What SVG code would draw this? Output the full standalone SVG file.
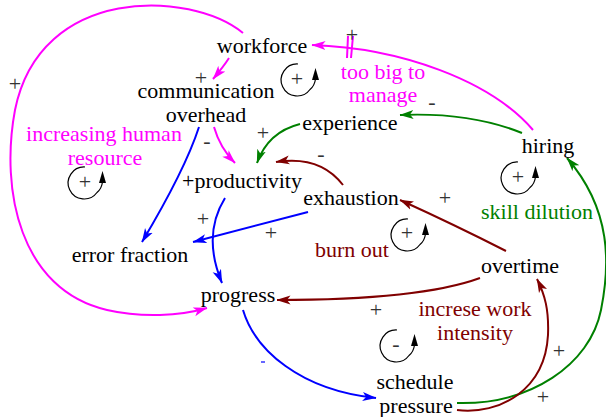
<svg xmlns="http://www.w3.org/2000/svg" width="606" height="417" viewBox="0 0 606 417">
  <style>
    text { font-family: "Liberation Serif", "Times New Roman", serif; font-size: 22px; text-anchor: middle; }
    .var { fill: #000; }
    .pol { fill: #333; }
    .lm { fill: #ff00ff; }
    .lg { fill: #008000; }
    .lr { fill: #800000; }
    .c { fill: none; stroke-width: 2; }
    .cm { stroke: #ff00ff; marker-end: url(#ah-m); }
    .cg { stroke: #008000; marker-end: url(#ah-g); }
    .cr { stroke: #800000; marker-end: url(#ah-r); }
    .cb { stroke: #0000ff; marker-end: url(#ah-b); }
    .loop path.arc { fill: none; stroke: #000; stroke-width: 1.2; }
    .loop path.tip { fill: #000; }
  </style>
  <defs>
    <marker id="ah-m" viewBox="0 0 14 10" refX="13.5" refY="5" markerWidth="14" markerHeight="10" markerUnits="userSpaceOnUse" orient="auto">
      <path d="M0,0.5 L14,5 L0,9.5 L3.5,5 z" fill="#ff00ff"/>
    </marker>
    <marker id="ah-g" viewBox="0 0 14 10" refX="13.5" refY="5" markerWidth="14" markerHeight="10" markerUnits="userSpaceOnUse" orient="auto">
      <path d="M0,0.5 L14,5 L0,9.5 L3.5,5 z" fill="#008000"/>
    </marker>
    <marker id="ah-r" viewBox="0 0 14 10" refX="13.5" refY="5" markerWidth="14" markerHeight="10" markerUnits="userSpaceOnUse" orient="auto">
      <path d="M0,0.5 L14,5 L0,9.5 L3.5,5 z" fill="#800000"/>
    </marker>
    <marker id="ah-b" viewBox="0 0 14 10" refX="13.5" refY="5" markerWidth="14" markerHeight="10" markerUnits="userSpaceOnUse" orient="auto">
      <path d="M0,0.5 L14,5 L0,9.5 L3.5,5 z" fill="#0000ff"/>
    </marker>
    <!-- loop marker: open circle with an upward arrowhead on the right -->
    <g id="loopsym" class="loop">
      <path class="arc" d="M1,-16 A16,16 0 1 0 13,9.5 Q17.5,6 18.5,-1"/>
      <path class="tip" d="M15,0 L22,0 L18.5,-12 z"/>
    </g>
  </defs>

  <!-- connectors -->
  <g id="connectors">
    <path class="c cm" d="M229,58 Q224,66 213,79"/>
    <path class="c cm" d="M214,127 Q220,148 235,163"/>
    <path class="c cm" d="M243,33 C190,-10 40,-15 15,110 C0,190 20,290 107,310 C142,318 180,316 207,308"/>
    <path class="c cm" d="M533,130 C490,80 400,48 312,45"/>
    <path class="c" stroke="#ff00ff" d="M348,36 L347,58 M353,36 L351,58"/>
    <path class="c cg" d="M522,133 Q470,112 400,115"/>
    <path class="c cg" d="M300,124 Q268,132 257,163"/>
    <path class="c cg" d="M457,403 C530,405 590,365 601,310 C610,265 612,210 567,158"/>
    <path class="c cr" d="M457,410 C500,415 545,390 548,335 C549,310 545,295 537,279"/>
    <path class="c cr" d="M506,251 Q455,225 400,200"/>
    <path class="c cr" d="M480,278 Q420,300 277,300"/>
    <path class="c cr" d="M343,185 Q320,155 276,162"/>
    <path class="c cb" d="M199,127 Q185,170 142,242"/>
    <path class="c cb" d="M225,198 Q202,235 222,283"/>
    <path class="c cb" d="M308,212 L193,242"/>
    <path class="c cb" d="M243,310 C255,350 300,390 376,398"/>
    <path d="M261,362 L265,362" stroke="#0000ff" stroke-width="1.2"/>
  </g>

  <!-- polarity signs -->
  <g id="polarities">
    <text class="pol" x="15" y="91">+</text>
    <text class="pol" x="201" y="85">+</text>
    <text class="pol" x="207" y="148">-</text>
    <text class="pol" x="263" y="140">+</text>
    <text class="pol" x="352" y="42">+</text>
    <text class="pol" x="432" y="109">-</text>
    <text class="pol" x="321" y="161">-</text>
    <text class="pol" x="445" y="205">+</text>
    <text class="pol" x="203" y="226">+</text>
    <text class="pol" x="271" y="240">+</text>
    <text class="pol" x="376" y="317">+</text>
    <text class="pol" x="559" y="358">+</text>
    <text class="pol" x="543" y="404">+</text>
  </g>

  <!-- variables -->
  <g id="workforce"><text class="var" x="262" y="53">workforce</text></g>
  <g id="communication-overhead">
    <text class="var" x="206" y="98">communication</text>
    <text class="var" x="206" y="122">overhead</text>
  </g>
  <g id="productivity"><text class="var" x="242" y="188">+productivity</text></g>
  <g id="experience"><text class="var" x="350" y="130">experience</text></g>
  <g id="hiring"><text class="var" x="548" y="153">hiring</text></g>
  <g id="exhaustion"><text class="var" x="351" y="205">exhaustion</text></g>
  <g id="error-fraction"><text class="var" x="130" y="262">error fraction</text></g>
  <g id="progress"><text class="var" x="238" y="302">progress</text></g>
  <g id="overtime"><text class="var" x="520" y="273">overtime</text></g>
  <g id="schedule-pressure">
    <text class="var" x="415" y="389">schedule</text>
    <text class="var" x="416" y="413">pressure</text>
  </g>

  <!-- loops -->
  <g id="loop-increasing-human-resource">
    <text class="lm" x="104" y="141">increasing human</text>
    <text class="lm" x="105" y="165">resource</text>
    <use href="#loopsym" x="84" y="183"/>
    <text class="pol" x="85" y="189">+</text>
  </g>
  <g id="loop-too-big-to-manage">
    <text class="lm" x="383" y="79">too big to</text>
    <text class="lm" x="383" y="102">manage</text>
    <use href="#loopsym" x="297" y="80"/>
    <text class="pol" x="297" y="86">+</text>
  </g>
  <g id="loop-skill-dilution">
    <text class="lg" x="537" y="219">skill dilution</text>
    <use href="#loopsym" x="517" y="178"/>
    <text class="pol" x="518" y="184">+</text>
  </g>
  <g id="loop-burn-out">
    <text class="lr" x="352" y="257">burn out</text>
    <use href="#loopsym" x="407" y="235"/>
    <text class="pol" x="407" y="240">+</text>
  </g>
  <g id="loop-increase-work-intensity">
    <text class="lr" x="475" y="316">increse work</text>
    <text class="lr" x="475" y="340">intensity</text>
    <use href="#loopsym" x="396" y="346"/>
    <text class="pol" x="396" y="351">-</text>
  </g>
</svg>
